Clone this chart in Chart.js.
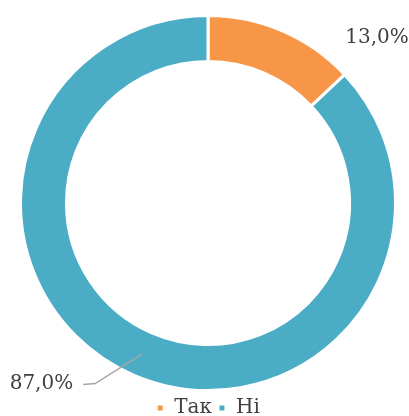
<!DOCTYPE html>
<html>
<head>
<meta charset="utf-8">
<script src="https://cdn.jsdelivr.net/npm/chart.js@4"></script>
<style>
  html, body { margin: 0; padding: 0; background: #fff; overflow: hidden; }
  #wrap { width: 409px; height: 428px; }
</style>
</head>
<body>
<div id="wrap"><canvas id="chart"></canvas></div>
<script>
const categories = ['Так', 'Ні'];
const values = [13.0, 87.0];
const colors = ['#F79646', '#4BACC6'];

// label placement: angle (deg from 3 o'clock) and distance in outer radii
const labelSpots = [
    { angle: -44.3, dist: 1.26, leader: false },
    { angle: 132.7, dist: 1.31, leader: true }
];

const pctLabels = {
    id: 'pctLabels',
    afterDatasetsDraw(chart) {
        const ctx = chart.ctx;
        const meta = chart.getDatasetMeta(0);
        const total = values.reduce((a, b) => a + b, 0);
        ctx.save();
        ctx.font = '20px "DejaVu Serif"';
        ctx.fillStyle = '#404040';
        ctx.textAlign = 'center';
        ctx.textBaseline = 'middle';
        meta.data.forEach((arc, i) => {
            const p = arc.getProps(['x', 'y', 'outerRadius', 'innerRadius'], true);
            const spot = labelSpots[i];
            const a = spot.angle * Math.PI / 180;
            const lx = p.x + Math.cos(a) * p.outerRadius * spot.dist;
            const ly = p.y + Math.sin(a) * p.outerRadius * spot.dist;
            const txt = (values[i] / total * 100).toFixed(1).replace('.', ',') + '%';
            ctx.fillText(txt, lx, ly);
            if (spot.leader) {
                // leader from label to middle of the ring
                const w = ctx.measureText(txt).width;
                const rMid = (p.outerRadius + p.innerRadius) / 2;
                const b = 113.6 * Math.PI / 180;
                const ex = p.x + Math.cos(b) * rMid;
                const ey = p.y + Math.sin(b) * rMid;
                ctx.strokeStyle = '#A6A6A6';
                ctx.lineWidth = 1.5;
                ctx.beginPath();
                ctx.moveTo(lx + w / 2 + 10, ly + 1);
                ctx.lineTo(lx + w / 2 + 22, ly);
                ctx.lineTo(ex, ey);
                ctx.stroke();
            }
        });
        ctx.restore();
    }
};

new Chart(document.getElementById('chart'), {
    type: 'doughnut',
    data: {
        labels: categories,
        datasets: [{
            data: values,
            backgroundColor: colors,
            borderColor: '#fff',
            borderWidth: 3,
            hoverOffset: 0
        }]
    },
    options: {
        responsive: true,
        maintainAspectRatio: false,
        animation: false,
        cutout: '75.5%',
        layout: { padding: { top: 14, bottom: 0, left: 7, right: 0 } },
        plugins: {
            tooltip: { enabled: false },
            legend: {
                position: 'bottom',
                labels: {
                    boxWidth: 8,
                    boxHeight: 8,
                    padding: 6,
                    color: '#404040',
                    font: { family: '"DejaVu Serif"', size: 20, lineHeight: 1.0 }
                }
            }
        }
    },
    plugins: [pctLabels]
});
</script>
</body>
</html>
